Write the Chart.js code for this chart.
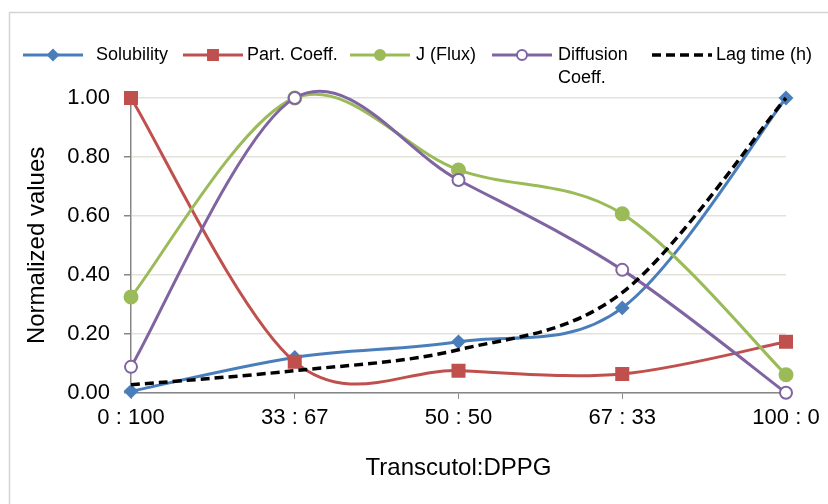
<!DOCTYPE html>
<html>
<head>
<meta charset="utf-8">
<script src="https://cdn.jsdelivr.net/npm/chart.js@4"></script>
<style>
  html, body { margin: 0; padding: 0; background: #fff; }
  #wrap { width: 828px; height: 504px; }
</style>
</head>
<body>
<div id="wrap"><canvas id="chart" width="828" height="504"></canvas></div>
<script>
const categories = ['0 : 100', '33 : 67', '50 : 50', '67 : 33', '100 : 0'];

const solubility = [0.005, 0.12, 0.173, 0.288, 1.00];
const partCoeff = [1.00, 0.105, 0.075, 0.064, 0.173];
const flux = [0.325, 1.00, 0.756, 0.607, 0.061];
const diffusion = [0.088, 1.00, 0.722, 0.417, 0.00];
const lagTime = [0.027, 0.075, 0.146, 0.34, 1.00];

const yTicks = [0, 0.2, 0.4, 0.6, 0.8, 1.0];

const FONT = "'Liberation Sans', Arial, sans-serif";

const series = [
    { label: 'Solubility', data: solubility, color: '#4a7ebb', marker: 'rectRot', radius: 6, fill: '#4a7ebb' },
    { label: 'Part. Coeff.', data: partCoeff, color: '#c0504d', marker: 'rect', radius: 8.5, fill: '#c0504d' },
    { label: 'J (Flux)', data: flux, color: '#9bbb59', marker: 'circle', radius: 6.5, fill: '#9bbb59' },
    { label: ['Diffusion', 'Coeff.'], data: diffusion, color: '#8064a2', marker: 'circle', radius: 6, fill: '#ffffff' },
    { label: 'Lag time (h)', data: lagTime, color: '#000000', marker: false, radius: 0, fill: '#000000', dash: [9, 5] }
];

// legend positions: line start x, text x
const legendPos = [
    { line: 23, text: 96 },
    { line: 183, text: 247 },
    { line: 350, text: 416 },
    { line: 492, text: 558 },
    { line: 652, text: 716 }
];

// Excel style smoothing: catmull-rom control points (1/6 of neighbour span)
const smoothPlugin = {
    id: 'excelSmooth',
    beforeDatasetsDraw(chart) {
        chart.getSortedVisibleDatasetMetas().forEach(meta => {
            const pts = meta.data;
            if (meta.dataset.updateControlPoints) meta.dataset.updateControlPoints(chart.chartArea);
            pts.forEach((p, i) => {
                const prev = pts[i - 1] || p;
                const next = pts[i + 1] || p;
                const dx = (next.x - prev.x) / 6;
                const dy = (next.y - prev.y) / 6;
                p.cp1x = p.x - dx;
                p.cp1y = p.y - dy;
                p.cp2x = p.x + dx;
                p.cp2y = p.y + dy;
            });
            meta.dataset._pointsUpdated = true;
            meta.dataset._path = undefined;
        });
    }
};

const framePlugin = {
    id: 'frame',
    beforeDraw(chart) {
        const ctx = chart.ctx;
        ctx.save();
        ctx.strokeStyle = '#d4d4d4';
        ctx.lineWidth = 1.5;
        ctx.beginPath();
        ctx.moveTo(9.5, 504);
        ctx.lineTo(9.5, 12.5);
        ctx.lineTo(828, 12.5);
        ctx.stroke();
        ctx.restore();
    }
};

const legendPlugin = {
    id: 'customLegend',
    afterDraw(chart) {
        const ctx = chart.ctx;
        const y = 55;
        ctx.save();
        series.forEach((s, i) => {
            const p = legendPos[i];
            ctx.strokeStyle = s.color;
            ctx.lineWidth = s.dash ? 3.5 : 3;
            ctx.setLineDash(s.dash || []);
            ctx.beginPath();
            ctx.moveTo(p.line, y);
            ctx.lineTo(p.line + 60, y);
            ctx.stroke();
            ctx.setLineDash([]);
            if (s.marker) {
                ctx.fillStyle = s.fill;
                ctx.strokeStyle = s.color;
                ctx.lineWidth = 2;
                Chart.helpers.drawPoint(ctx, { pointStyle: s.marker, radius: s.marker === 'rect' ? 7 : 5, borderWidth: 2 }, p.line + 30, y);
            }
            ctx.fillStyle = '#000';
            ctx.font = '18px ' + FONT;
            ctx.textBaseline = 'middle';
            ctx.textAlign = 'left';
            const lines = Array.isArray(s.label) ? s.label : [s.label];
            lines.forEach((t, k) => ctx.fillText(t, p.text, y + k * 23));
        });
        ctx.restore();
    }
};

new Chart(document.getElementById('chart'), {
    type: 'line',
    data: {
        labels: categories,
        datasets: series.map((s, i) => ({
            label: Array.isArray(s.label) ? s.label.join(' ') : s.label,
            data: s.data,
            borderColor: s.color,
            backgroundColor: s.fill,
            borderWidth: s.dash ? 3.5 : 3,
            borderDash: s.dash || [],
            pointStyle: s.marker || 'circle',
            pointRadius: s.radius,
            pointHoverRadius: s.radius,
            pointBackgroundColor: s.fill,
            pointBorderColor: s.color,
            pointBorderWidth: 2,
            tension: 0.4,
            capBezierPoints: false,
            clip: false,
            order: series.length - i
        }))
    },
    options: {
        responsive: false,
        animation: false,
        events: [],
        layout: { padding: { left: 23, top: 98, right: 42, bottom: 17 } },
        plugins: {
            legend: { display: false },
            tooltip: { enabled: false }
        },
        scales: {
            x: {
                offset: false,
                grid: { drawOnChartArea: false, drawTicks: true, tickLength: 6, color: '#868686' },
                border: { display: true, color: '#868686', width: 1.5 },
                ticks: { color: '#000', font: { family: FONT, size: 22 }, padding: 6, maxRotation: 0 },
                title: { display: true, text: 'Transcutol:DPPG', color: '#000', font: { family: FONT, size: 24 }, padding: { top: 17, bottom: 4 } }
            },
            y: {
                min: 0,
                max: 1,
                afterBuildTicks(scale) { scale.ticks = yTicks.map(v => ({ value: v })); },
                afterFit(scale) { scale.width = 108; },
                grid: { color: '#e2e2da', lineWidth: 1.5, drawTicks: true, tickLength: 7, tickColor: '#868686', tickWidth: 1.5 },
                border: { display: true, color: '#868686', width: 1.5 },
                ticks: { color: '#000', font: { family: FONT, size: 22 }, padding: 14, callback: v => v.toFixed(2) },
                title: { display: true, text: 'Normalized values', color: '#000', font: { family: FONT, size: 24 }, padding: { top: 0, bottom: 16 } }
            }
        }
    },
    plugins: [framePlugin, smoothPlugin, legendPlugin]
});
</script>
</body>
</html>
